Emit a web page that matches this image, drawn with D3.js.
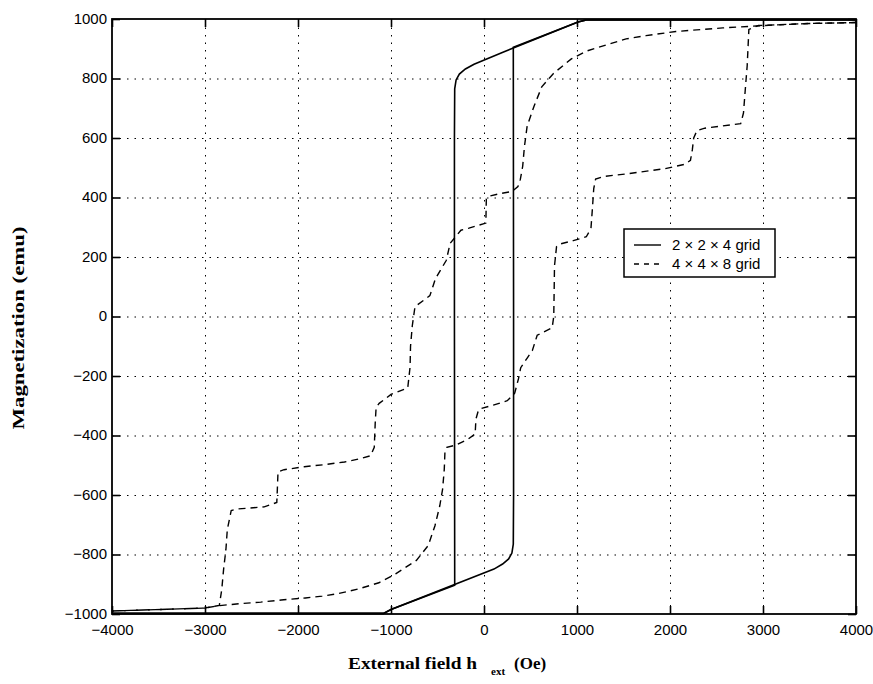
<!DOCTYPE html>
<html>
<head>
<meta charset="utf-8">
<script src="https://cdn.jsdelivr.net/npm/d3@7"></script>
<style>
  body { margin: 0; background: #fff; }
  .tick text { font-family: "Liberation Sans", Arial, sans-serif; font-size: 15px; fill: #000; }
  .grid line { stroke: #000; stroke-width: 1; stroke-dasharray: 1.5,6; }
  .grid path { display: none; }
</style>
</head>
<body>
<div id="plot"></div>
<script>
// tick values
var xTicks = [-4000, -3000, -2000, -1000, 0, 1000, 2000, 3000, 4000];
var yTicks = [-1000, -800, -600, -400, -200, 0, 200, 400, 600, 800, 1000];
var seriesNames = ["2 \u00d7 2 \u00d7 4 grid", "4 \u00d7 4 \u00d7 8 grid"];

// 2x2x4 grid, field going down then up  [H, M]
var coarseDown = [[4000, 997], [1100, 997], [1011, 990], [210, 889], [-107, 848], [-200, 832],
  [-265, 815], [-300, 795], [-315, 765], [-318, 600], [-318, 0], [-315, -903], [-1000, -985],
  [-1080, -998], [-4000, -998]];
var coarseUp = [[-4000, -998], [-1080, -998], [-1000, -985], [107, -849], [200, -832], [265, -815],
  [300, -795], [315, -765], [318, -600], [318, 0], [315, 905], [1011, 990], [1100, 997], [4000, 997]];

// 4x4x8 grid
var fineDown = [[4000, 988], [3500, 985], [3000, 978], [2568, 970], [2063, 958], [1742, 944],
  [1528, 933], [1346, 916], [1100, 892], [939, 866], [747, 817], [621, 772], [537, 706], [464, 640],
  [435, 572], [416, 505], [390, 460], [365, 437], [300, 420], [187, 414], [60, 405], [25, 395],
  [20, 314], [-162, 297], [-248, 290], [-364, 246], [-405, 189], [-521, 128], [-582, 70], [-742, 33],
  [-771, -31], [-790, -100], [-795, -170], [-820, -240], [-1000, -262], [-1127, -292], [-1160, -305],
  [-1170, -360], [-1180, -440], [-1220, -468], [-1330, -478], [-1500, -489], [-1718, -498],
  [-1933, -505], [-2150, -515], [-2215, -522], [-2222, -580], [-2228, -625], [-2363, -640],
  [-2653, -647], [-2718, -652], [-2760, -716], [-2775, -783], [-2800, -850], [-2820, -918],
  [-2846, -971], [-3000, -980], [-4000, -990]];
var fineUp = [[-4000, -990], [-3000, -980], [-2850, -972], [-2620, -965], [-2400, -960],
  [-2180, -953], [-1920, -946], [-1740, -940], [-1560, -931], [-1340, -915], [-1130, -895],
  [-950, -865], [-727, -820], [-600, -770], [-528, -704], [-476, -637], [-445, -580], [-427, -513],
  [-420, -455], [-400, -440], [-300, -432], [-170, -412], [-95, -395], [-87, -345], [-60, -315],
  [-30, -309], [100, -298], [250, -283], [330, -258], [370, -210], [395, -172], [468, -138],
  [520, -114], [572, -63], [733, -38], [750, 0], [755, 100], [758, 170], [780, 235], [809, 243],
  [960, 255], [1100, 268], [1150, 296], [1165, 360], [1180, 430], [1200, 462], [1293, 471],
  [1551, 480], [1947, 497], [2162, 512], [2220, 525], [2240, 560], [2255, 600], [2290, 625],
  [2374, 633], [2653, 644], [2760, 648], [2790, 684], [2810, 765], [2830, 843], [2840, 910],
  [2848, 965], [2950, 978], [3500, 985], [4000, 988]];

var margin = {top: 19, right: 17, bottom: 70, left: 112},
    width = 873 - margin.left - margin.right,
    height = 684 - margin.top - margin.bottom;

var root = d3.select("#plot").append("svg")
    .attr("width", 873)
    .attr("height", 684);
var svg = root.append("g")
    .attr("transform", "translate(" + margin.left + "," + margin.top + ")");

var xs = d3.scaleLinear().domain([-4000, 4000]).range([0, width]);
var ys = d3.scaleLinear().domain([-1000, 1000]).range([height, 0]);

// dotted grid
svg.append("g").attr("class", "grid")
    .attr("transform", "translate(0," + height + ")")
    .call(d3.axisBottom(xs).tickValues(xTicks.slice(1, -1)).tickSize(-height).tickFormat(""));
svg.append("g").attr("class", "grid")
    .call(d3.axisLeft(ys).tickValues(yTicks.slice(1, -1)).tickSize(-width).tickFormat(""));

// curves
var line = d3.line().x(d => xs(d[0])).y(d => ys(d[1]));
[coarseDown, coarseUp].forEach(s => {
  svg.append("path").datum(s).attr("d", line)
    .attr("fill", "none").attr("stroke", "#000").attr("stroke-width", 1.6);
});
[fineDown, fineUp].forEach(s => {
  svg.append("path").datum(s).attr("d", line)
    .attr("fill", "none").attr("stroke", "#000").attr("stroke-width", 1.4)
    .attr("stroke-dasharray", "7,5");
});

// frame + inward ticks
var fmt = d3.format("d");
function styleAxis(g) {
  g.select(".domain").remove();
  g.selectAll(".tick line").attr("stroke", "#000").attr("stroke-width", 1.6);
}
svg.append("g").attr("transform", "translate(0," + height + ")")
    .call(d3.axisBottom(xs).tickValues(xTicks).tickSizeInner(-8).tickSizeOuter(0).tickPadding(10).tickFormat(fmt))
    .call(styleAxis);
svg.append("g")
    .call(d3.axisTop(xs).tickValues(xTicks).tickSizeInner(-8).tickSizeOuter(0).tickFormat(""))
    .call(styleAxis);
svg.append("g")
    .call(d3.axisLeft(ys).tickValues(yTicks).tickSizeInner(-8).tickSizeOuter(0).tickPadding(5).tickFormat(fmt))
    .call(styleAxis)
    .selectAll(".tick text").attr("dy", "0.28em");
svg.append("g").attr("transform", "translate(" + width + ",0)")
    .call(d3.axisRight(ys).tickValues(yTicks).tickSizeInner(-8).tickSizeOuter(0).tickFormat(""))
    .call(styleAxis);
svg.append("rect")
    .attr("width", width).attr("height", height)
    .attr("fill", "none").attr("stroke", "#000").attr("stroke-width", 1.8);

// legend
var leg = root.append("g").attr("transform", "translate(624,229)");
leg.append("rect").attr("width", 151).attr("height", 48)
    .attr("fill", "#fff").attr("stroke", "#000").attr("stroke-width", 1.5);
seriesNames.forEach((name, i) => {
  var yy = 16 + i * 19;
  leg.append("line").attr("x1", 10).attr("x2", 37).attr("y1", yy).attr("y2", yy)
    .attr("stroke", "#000").attr("stroke-width", 1.4)
    .attr("stroke-dasharray", i ? "5,5" : null);
  leg.append("text").attr("x", 48).attr("y", yy + 5)
    .attr("font-family", "Liberation Sans, Arial, sans-serif").attr("font-size", 15)
    .text(name);
});

// axis labels
var serif = "Liberation Serif, Times New Roman, serif";
root.append("text")
    .attr("transform", "translate(24,328) rotate(-90)")
    .attr("text-anchor", "middle")
    .attr("font-family", serif).attr("font-weight", "bold").attr("font-size", 17)
    .attr("textLength", 203).attr("lengthAdjust", "spacingAndGlyphs")
    .text("Magnetization (emu)");
var xl = root.append("text")
    .attr("font-family", serif).attr("font-weight", "bold").attr("font-size", 17);
xl.append("tspan").attr("x", 348).attr("y", 669)
    .attr("textLength", 129).attr("lengthAdjust", "spacingAndGlyphs")
    .text("External field h");
xl.append("tspan").attr("x", 491).attr("y", 675).attr("font-size", 11).text("ext");
xl.append("tspan").attr("x", 514).attr("y", 669).text("(Oe)");
</script>
</body>
</html>
